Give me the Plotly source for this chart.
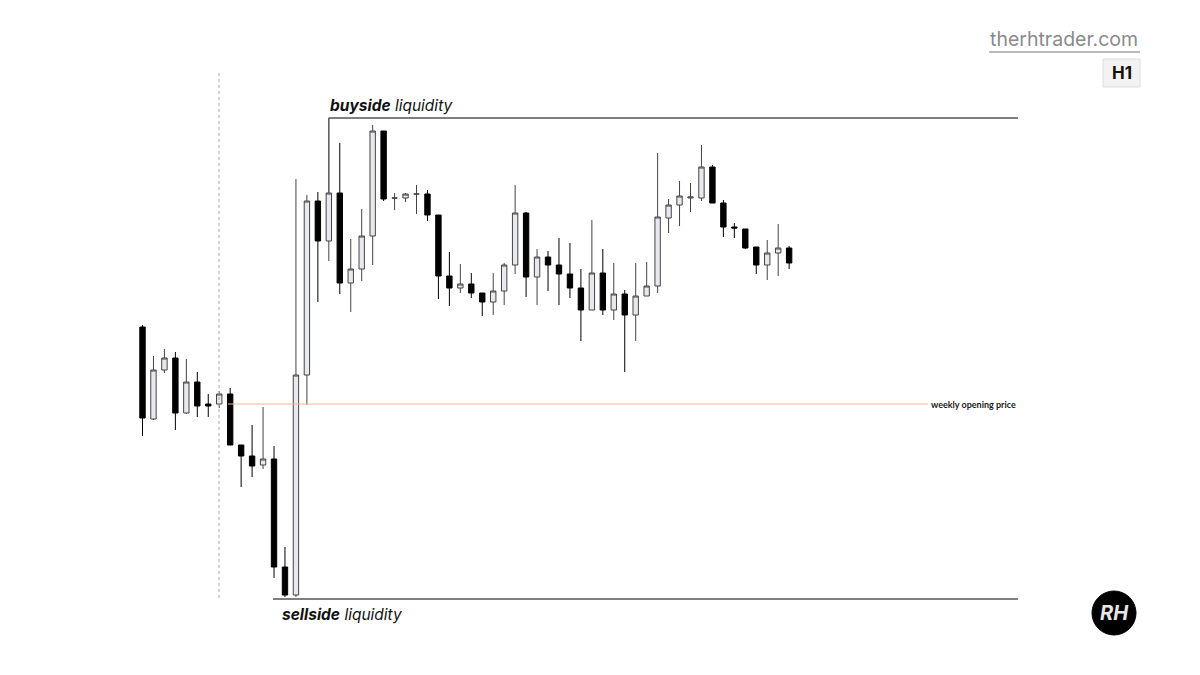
import plotly.graph_objects as go

# ---- data (H1 candles, arbitrary price units) ----
bars = list(range(60))
opens = [348, 256, 305, 317, 262, 293, 271, 271, 281, 230, 219, 210, 216, 108, 80, 300, 474, 434, 482, 392,
         406, 439, 544, 477, 477, 481, 481, 460, 399, 387, 391, 382, 373, 384, 410, 462, 398, 418, 410, 401,
         387, 365, 402, 365, 381, 360, 379, 389, 457, 470, 477, 477, 508, 472, 448, 446, 428, 410, 422, 427]
highs = [350, 319, 326, 323, 316, 303, 281, 284, 287, 230, 250, 268, 229, 128, 496, 480, 483, 482, 532, 436,
         466, 550, 544, 482, 482, 490, 485, 460, 423, 411, 402, 382, 402, 412, 490, 463, 426, 424, 437, 432,
         406, 455, 426, 412, 385, 412, 413, 522, 476, 494, 492, 530, 510, 475, 452, 446, 428, 435, 451, 429]
lows = [239, 255, 302, 245, 261, 258, 258, 267, 230, 188, 198, 206, 97, 78, 78, 270, 373, 414, 381, 363,
        394, 410, 474, 465, 473, 461, 454, 376, 369, 382, 377, 359, 360, 370, 401, 378, 370, 384, 370, 377,
        334, 365, 360, 355, 303, 334, 379, 382, 442, 449, 463, 474, 472, 438, 437, 426, 401, 395, 399, 406]
closes = [257, 305, 317, 262, 293, 269, 269, 281, 230, 219, 209, 216, 108, 80, 300, 474, 434, 482, 392, 406,
          439, 544, 476, 477, 481, 481, 460, 399, 387, 391, 382, 373, 384, 410, 462, 398, 418, 410, 401, 387,
          365, 402, 365, 381, 360, 379, 389, 458, 470, 479, 478, 508, 472, 448, 447, 427, 410, 422, 427, 412]

BUYSIDE = 557
SELLSIDE = 76
WEEKLY_OPEN = 271

# pixel helpers for layout-only positions (plot area = whole figure)
X0_PX, STEP_PX = 142.5, 10.96
def px2x(px):
    return (px - X0_PX) / STEP_PX
def py2y(py):
    return 675 - py

fig = go.Figure()
fig.add_trace(go.Candlestick(
    x=bars, open=opens, high=highs, low=lows, close=closes,
    increasing=dict(line=dict(color="#444444", width=1), fillcolor="#e7e9ef"),
    decreasing=dict(line=dict(color="#000000", width=1), fillcolor="#000000"),
    whiskerwidth=0, showlegend=False, hoverinfo="x+y",
))

line_col = "#555555"
shapes = [
    # dotted session separator
    dict(type="line", xref="x", yref="y", x0=px2x(219), x1=px2x(219), y0=py2y(73), y1=py2y(600),
         line=dict(color="#aaaaaa", width=1, dash="dot")),
    # weekly opening price
    dict(type="line", xref="x", yref="y", x0=px2x(228), x1=px2x(928), y0=WEEKLY_OPEN, y1=WEEKLY_OPEN,
         line=dict(color="#f2b89f", width=1)),
    # buyside liquidity
    dict(type="line", xref="x", yref="y", x0=17, x1=17, y0=highs[17], y1=BUYSIDE,
         line=dict(color=line_col, width=1.5)),
    dict(type="line", xref="x", yref="y", x0=17, x1=px2x(1018), y0=BUYSIDE, y1=BUYSIDE,
         line=dict(color=line_col, width=1.5)),
    # sellside liquidity
    dict(type="line", xref="x", yref="y", x0=px2x(273), x1=px2x(1018), y0=SELLSIDE, y1=SELLSIDE,
         line=dict(color=line_col, width=1.5)),
    # site underline
    dict(type="line", xref="paper", yref="paper", x0=989/1200, x1=1140/1200, y0=1-52/675, y1=1-52/675,
         line=dict(color="#777777", width=1)),
    # H1 badge
    dict(type="rect", xref="paper", yref="paper", x0=1103/1200, x1=1140/1200, y0=1-87/675, y1=1-59/675,
         line=dict(color="#dddddd", width=1), fillcolor="#f2f2f2"),
    # logo circle
    dict(type="circle", xref="paper", yref="paper", x0=1092/1200, x1=1136/1200, y0=1-635/675, y1=1-591/675,
         line=dict(color="#000000", width=1), fillcolor="#000000"),
]

annotations = [
    dict(x=328/1200, y=1-105/675, xref="paper", yref="paper", xanchor="left", yanchor="middle",
         text="<b><i>buyside</i></b><i> liquidity</i>", showarrow=False,
         font=dict(family="Inter, Roboto, sans-serif", size=15.5, color="#111111")),
    dict(x=280/1200, y=1-614/675, xref="paper", yref="paper", xanchor="left", yanchor="middle",
         text="<b><i>sellside</i></b><i> liquidity</i>", showarrow=False,
         font=dict(family="Inter, Roboto, sans-serif", size=15.5, color="#111111")),
    dict(x=929/1200, y=1-404/675, xref="paper", yref="paper", xanchor="left", yanchor="middle",
         text="<b>weekly opening price</b>", showarrow=False,
         font=dict(family="Lato, Inter, sans-serif", size=9, color="#1a1a1a")),
    dict(x=1140/1200, y=1-39/675, xref="paper", yref="paper", xanchor="right", yanchor="middle",
         text="therhtrader.com", showarrow=False,
         font=dict(family="Inter, Roboto, sans-serif", size=19.5, color="#8a8a8a")),
    dict(x=1121.5/1200, y=1-73/675, xref="paper", yref="paper", xanchor="center", yanchor="middle",
         text="<b>H1</b>", showarrow=False,
         font=dict(family="Inter, Roboto, sans-serif", size=17, color="#111111")),
    dict(x=1114/1200, y=1-613/675, xref="paper", yref="paper", xanchor="center", yanchor="middle",
         text="<b><i>RH</i></b>", showarrow=False,
         font=dict(family="Inter, Roboto, sans-serif", size=20, color="#e6e6e6")),
]

fig.update_layout(
    width=1200, height=675,
    margin=dict(l=0, r=0, t=0, b=0),
    paper_bgcolor="#ffffff", plot_bgcolor="#ffffff",
    xaxis=dict(range=[px2x(0), px2x(1200)], visible=False, rangeslider=dict(visible=False), fixedrange=True),
    yaxis=dict(range=[0, 675], visible=False, fixedrange=True),
    shapes=shapes, annotations=annotations, showlegend=False,
)

fig.write_html("out.html", config={"displayModeBar": False},
               post_script="document.body.style.margin='0';document.body.style.padding='0';")
